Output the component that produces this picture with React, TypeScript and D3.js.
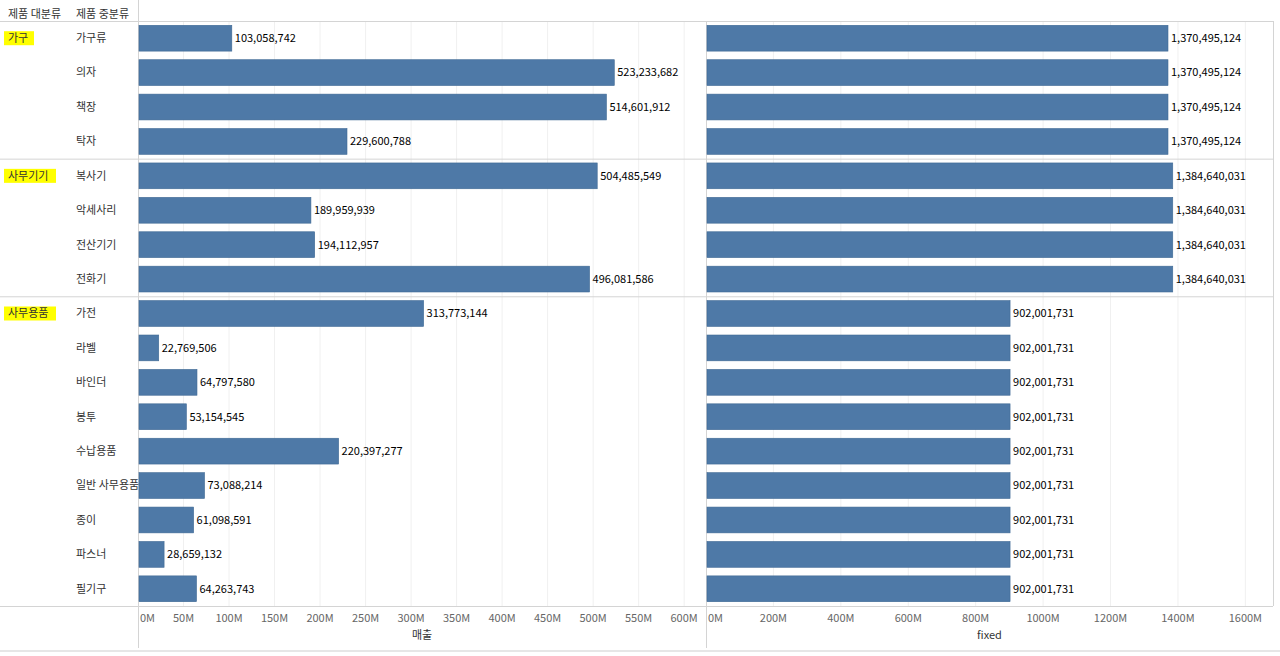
import * as React from 'react';
import * as d3 from 'd3';

const categories = ['가구', '사무기기', '사무용품'];
const subCategories = [
  ['가구류', '의자', '책장', '탁자'],
  ['복사기', '악세사리', '전산기기', '전화기'],
  ['가전', '라벨', '바인더', '봉투', '수납용품', '일반 사무용품', '종이', '파스너', '필기구'],
];
const salesValues = [
  [103058742, 523233682, 514601912, 229600788],
  [504485549, 189959939, 194112957, 496081586],
  [313773144, 22769506, 64797580, 53154545, 220397277, 73088214, 61098591, 28659132, 64263743],
];
const fixedValues = [1370495124, 1384640031, 902001731];
const salesTicks = [0, 50, 100, 150, 200, 250, 300, 350, 400, 450, 500, 550, 600];
const fixedTicks = [0, 200, 400, 600, 800, 1000, 1200, 1400, 1600];

const W = 1280;
const H = 656;
const top = 21;
const bottom = 606;
const leftX = 138;
const midX = 706;
const rightX = 1273;
const font = '"Noto Sans CJK KR", "Noto Sans", sans-serif';
const barColor = '#4e79a7';
const fmt = d3.format(',');

interface Row {
  cat: string;
  catIndex: number;
  first: boolean;
  sub: string;
  sales: number;
  fixed: number;
}

const rows: Row[] = [];
categories.forEach((c, ci) => {
  subCategories[ci].forEach((s, si) => {
    rows.push({ cat: c, catIndex: ci, first: si === 0, sub: s, sales: salesValues[ci][si], fixed: fixedValues[ci] });
  });
});

export default function App() {
  const y = d3.scaleBand<number>().domain(rows.map((_, i) => i)).range([top, bottom]).paddingInner(0.25).paddingOuter(0.125);
  const xs = d3.scaleLinear().domain([0, 624e6]).range([leftX, midX]);
  const xf = d3.scaleLinear().domain([0, 1682e6]).range([midX, rightX]);
  const step = y.step();

  // group separators
  const seps: number[] = [];
  let acc = 0;
  subCategories.forEach((s, i) => {
    acc += s.length;
    if (i < subCategories.length - 1) seps.push(top + acc * step);
  });

  return (
    <svg width={W} height={H} style={{ position: 'absolute', left: 0, top: 0, fontFamily: font }}>
      <rect width={W} height={H} fill="#fff" />
      {/* gridlines */}
      {salesTicks.slice(1).map(t => (
        <line key={'gs' + t} x1={xs(t * 1e6)} x2={xs(t * 1e6)} y1={top} y2={bottom} stroke="#f0f0f0" />
      ))}
      {fixedTicks.slice(1).map(t => (
        <line key={'gf' + t} x1={xf(t * 1e6)} x2={xf(t * 1e6)} y1={top} y2={bottom} stroke="#f0f0f0" />
      ))}

      {/* header */}
      <text x={8} y={18} fontSize={11} fill="#333">제품 대분류</text>
      <text x={76} y={18} fontSize={11} fill="#333">제품 중분류</text>

      {/* frame lines */}
      <line x1={0} x2={rightX} y1={top + 0.5} y2={top + 0.5} stroke="#d4d4d4" />
      {seps.map(s => (
        <line key={s} x1={0} x2={rightX} y1={s + 0.5} y2={s + 0.5} stroke="#d4d4d4" />
      ))}
      <line x1={0} x2={rightX} y1={bottom + 0.5} y2={bottom + 0.5} stroke="#d4d4d4" />
      <line x1={leftX + 0.5} x2={leftX + 0.5} y1={0} y2={648} stroke="#d4d4d4" />
      <line x1={midX + 0.5} x2={midX + 0.5} y1={top} y2={648} stroke="#d4d4d4" />
      <line x1={rightX + 0.5} x2={rightX + 0.5} y1={top} y2={bottom} stroke="#d4d4d4" />
      <line x1={0} x2={W} y1={651} y2={651} stroke="#e6e6e6" strokeWidth={2} />

      {rows.map((r, i) => {
        const yc = (y(i) as number) + y.bandwidth() / 2;
        return (
          <g key={i}>
            {r.first ? (
              <g>
                <rect x={4} y={yc - 7} width={r.cat.length * 11 + 8} height={14} fill="#ffff00" />
                <text x={8} y={yc} dy="0.35em" fontSize={11} fill="#333">{r.cat}</text>
              </g>
            ) : null}
            <text x={76} y={yc} dy="0.35em" fontSize={11} fill="#333">{r.sub}</text>
            <rect x={xs(0) + 1} y={y(i)} width={xs(r.sales) - xs(0) - 1} height={y.bandwidth()} fill={barColor} stroke="#3f6994" strokeWidth={0.6} />
            <text x={xs(r.sales) + 3} y={yc} dy="0.35em" fontSize={11} fill="#000">{fmt(r.sales)}</text>
            <rect x={xf(0) + 1} y={y(i)} width={xf(r.fixed) - xf(0) - 1} height={y.bandwidth()} fill={barColor} stroke="#3f6994" strokeWidth={0.6} />
            <text x={xf(r.fixed) + 3} y={yc} dy="0.35em" fontSize={11} fill="#000">{fmt(r.fixed)}</text>
          </g>
        );
      })}

      {/* axes */}
      {salesTicks.map(t => (
        <text key={'ts' + t} x={t === 0 ? xs(0) + 2 : xs(t * 1e6)} y={622} fontSize={11} fill="#666" textAnchor={t === 0 ? 'start' : 'middle'}>{t}M</text>
      ))}
      {fixedTicks.map(t => (
        <text key={'tf' + t} x={t === 0 ? xf(0) + 2 : xf(t * 1e6)} y={622} fontSize={11} fill="#666" textAnchor={t === 0 ? 'start' : 'middle'}>{t}M</text>
      ))}
      <text x={(leftX + midX) / 2} y={639} fontSize={11} fill="#333" textAnchor="middle">매출</text>
      <text x={(midX + rightX) / 2} y={639} fontSize={11} fill="#333" textAnchor="middle">fixed</text>
    </svg>
  );
}
